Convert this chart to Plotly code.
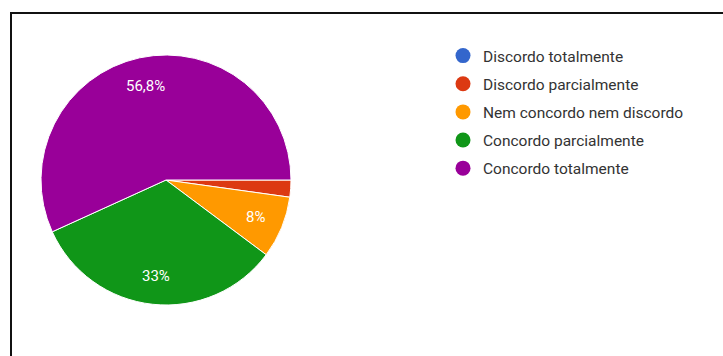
import numpy as np
import plotly.graph_objects as go

W, H = 723, 356

categories = ["Discordo totalmente", "Discordo parcialmente", "Nem concordo nem discordo",
              "Concordo parcialmente", "Concordo totalmente"]
values = [0.0, 2.2, 8.0, 33.0, 56.8]
slice_labels = ["", "", "8%", "33%", "56,8%"]
colors = ["#3366cc", "#dc3912", "#ff9900", "#109618", "#990099"]

FONT = "Roboto, Arial, sans-serif"

fig = go.Figure()

cx, cy, r = 166, 180, 125
fig.add_trace(go.Pie(
    labels=categories, values=values,
    textinfo="none",
    marker=dict(colors=colors, line=dict(color="white", width=1)),
    sort=False, direction="clockwise", rotation=90,
    showlegend=False, hoverinfo="label+percent",
    domain=dict(x=[(cx - r) / W, (cx + r) / W], y=[(H - cy - r) / H, (H - cy + r) / H]),
))

# slice labels placed at each slice's mid-angle (clockwise from 3 o'clock)
vals = np.array(values)
ends = np.cumsum(vals) / vals.sum() * 2 * np.pi
mids = ends - vals / vals.sum() * np.pi
annotations = []
for lab, a in zip(slice_labels, mids):
    if not lab:
        continue
    px = cx + 0.77 * r * np.cos(a)
    py = cy + 0.77 * r * np.sin(a)
    annotations.append(dict(
        text=lab, x=px / W, y=1 - py / H, xref="paper", yref="paper",
        showarrow=False, xanchor="center", yanchor="middle",
        font=dict(color="white", size=15, family=FONT),
    ))

for i, (name, col) in enumerate(zip(categories, colors)):
    fig.add_trace(go.Scatter(
        x=[None], y=[None], mode="markers", name=name,
        marker=dict(color=col, size=15, symbol="circle"),
        legendgroup=f"g{i}", showlegend=True,
    ))

fig.update_layout(
    width=W, height=H,
    margin=dict(l=0, r=0, t=0, b=0),
    paper_bgcolor="white", plot_bgcolor="white",
    xaxis=dict(visible=False), yaxis=dict(visible=False),
    font=dict(family=FONT, color="#333333"),
    legend=dict(
        x=443 / W, y=1 - 39 / H, xanchor="left", yanchor="top",
        font=dict(size=15.5, family=FONT, color="#333333"),
        tracegroupgap=5, itemwidth=30, bgcolor="rgba(0,0,0,0)",
    ),
    annotations=annotations,
    shapes=[
        dict(type="line", xref="paper", yref="paper",
             x0=10 / W, x1=1, y0=1 - 13 / H, y1=1 - 13 / H,
             line=dict(color="#111111", width=2)),
        dict(type="line", xref="paper", yref="paper",
             x0=11 / W, x1=11 / W, y0=0, y1=1 - 13 / H,
             line=dict(color="#111111", width=2)),
    ],
)

fig.write_html("out.html")
